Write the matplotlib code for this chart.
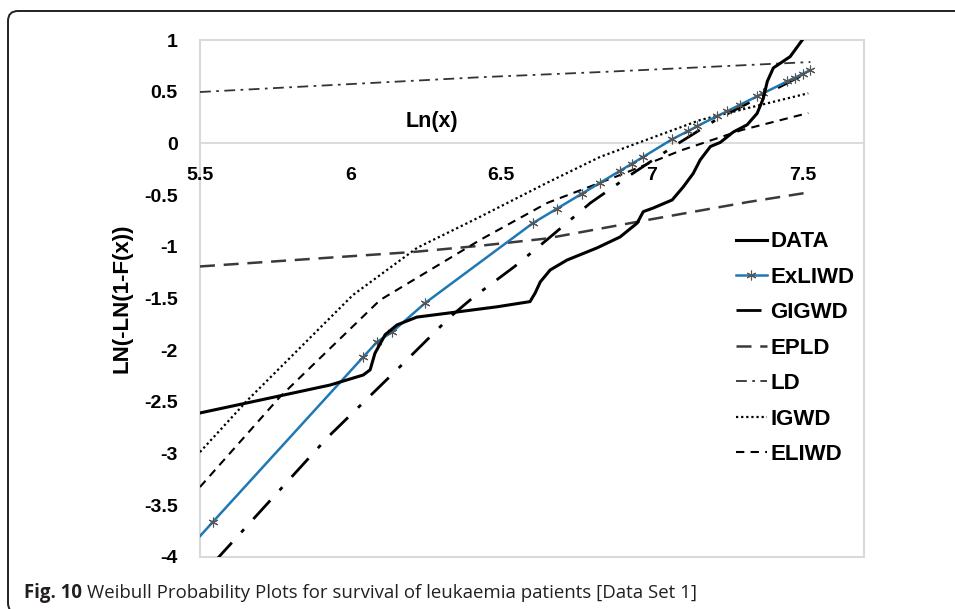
import matplotlib
matplotlib.use('Agg')
import matplotlib.pyplot as plt
from matplotlib.patches import FancyBboxPatch, Rectangle
from matplotlib.transforms import IdentityTransform

plt.rcParams['font.family'] = 'Liberation Sans'
plt.rcParams['axes.unicode_minus'] = False

# empirical curve
data_x = [5.5, 5.72, 5.932, 6.042, 6.065, 6.081, 6.115, 6.154, 6.22, 6.354, 6.487,
          6.596, 6.613, 6.63, 6.663, 6.719, 6.819, 6.895, 6.952, 6.972, 7.005,
          7.068, 7.105, 7.138, 7.161, 7.195, 7.228, 7.271, 7.317, 7.35, 7.37,
          7.384, 7.404, 7.46, 7.50, 7.52]
data_y = [-2.607, -2.47, -2.337, -2.24, -2.19, -2.03, -1.85, -1.756, -1.68, -1.63, -1.58,
          -1.53, -1.447, -1.34, -1.224, -1.128, -1.01, -0.905, -0.77, -0.66, -0.625,
          -0.547, -0.42, -0.29, -0.16, -0.03, 0.01, 0.11, 0.18, 0.29, 0.43,
          0.60, 0.73, 0.84, 1.0, 1.07]

# fitted models
exliwd_x = [5.45, 5.543, 6.042, 6.088, 6.138, 6.248, 6.606, 6.686, 6.769, 6.829, 6.895,
            6.935, 6.972, 7.068, 7.121, 7.15, 7.218, 7.25, 7.294, 7.35, 7.37, 7.45,
            7.475, 7.503, 7.527]
exliwd_y = [-3.96, -3.66, -2.066, -1.92, -1.824, -1.543, -0.77, -0.63, -0.485, -0.38, -0.265,
            -0.195, -0.13, 0.04, 0.12, 0.165, 0.265, 0.31, 0.375, 0.455, 0.485, 0.60,
            0.635, 0.675, 0.71]

gigwd_x = [5.55, 5.925, 6.164, 6.33, 6.407, 6.545, 6.653, 6.796, 6.929, 7.08, 7.218, 7.527]
gigwd_y = [-4.04, -2.84, -2.16, -1.68, -1.49, -1.19, -0.93, -0.577, -0.306, -0.015, 0.236, 0.70]

epld_x = [5.5, 6.208, 6.43, 6.65, 6.985, 7.32, 7.53]
epld_y = [-1.19, -1.05, -0.99, -0.92, -0.741, -0.567, -0.47]

ld_x = [5.5, 6.43, 6.829, 7.527]
ld_y = [0.497, 0.64, 0.69, 0.787]

igwd_x = [5.5, 5.659, 6.008, 6.221, 6.43, 6.653, 6.829, 7.161, 7.317, 7.52]
igwd_y = [-2.985, -2.48, -1.466, -1.01, -0.71, -0.38, -0.13, 0.226, 0.34, 0.485]

eliwd_x = [5.5, 5.766, 6.098, 6.43, 6.653, 6.895, 7.095, 7.3, 7.52]
eliwd_y = [-3.323, -2.45, -1.515, -0.934, -0.576, -0.306, -0.07, 0.13, 0.294]

xticks = [5.5, 6, 6.5, 7, 7.5]
xlabels = ['5.5', '6', '6.5', '7', '7.5']
yticks = [-4, -3.5, -3, -2.5, -2, -1.5, -1, -0.5, 0, 0.5, 1]
ylabels = ['-4', '-3.5', '-3', '-2.5', '-2', '-1.5', '-1', '-0.5', '0', '0.5', '1']

fig = plt.figure(figsize=(9.55, 6.09), dpi=100)
ax = fig.add_axes([0.2094, 0.0854, 0.6953, 0.8489])

ax.plot(data_x, data_y, color='black', lw=2.2, label='DATA', zorder=5)
ax.plot(exliwd_x, exliwd_y, color='#1f78b4', lw=1.8, marker=(6, 2, 0), ms=7,
        mec='#555555', mew=0.8, label='ExLIWD', zorder=4)
ax.plot(gigwd_x, gigwd_y, color='black', lw=2.0, dashes=(9, 5, 1.5, 5), label='GIGWD', zorder=3)
ax.plot(epld_x, epld_y, color='#3a3a3a', lw=1.8, dashes=(6, 3.5), label='EPLD', zorder=3)
ax.plot(ld_x, ld_y, color='#333333', lw=1.3, dashes=(6, 3, 1.5, 3), label='LD', zorder=3)
ax.plot(igwd_x, igwd_y, color='black', lw=1.6, dashes=(1, 1.3), label='IGWD', zorder=3)
ax.plot(eliwd_x, eliwd_y, color='black', lw=1.5, dashes=(4, 3), label='ELIWD', zorder=3)

ax.set_xlim(5.5, 7.705)
ax.set_ylim(-4, 1)

for side in ['top', 'right', 'left']:
    ax.spines[side].set_visible(False)
ax.spines['bottom'].set_position(('data', 0))
ax.spines['bottom'].set_color('#d9d9d9')
ax.spines['bottom'].set_linewidth(1.3)
ax.add_patch(Rectangle((0, 0), 1, 1, transform=ax.transAxes, fill=False,
                       ec='#d9d9d9', lw=1.5, clip_on=False, zorder=0))

ax.set_xticks(xticks, xlabels, fontweight='bold')
ax.set_yticks(yticks, ylabels, fontweight='bold')
ax.tick_params(axis='both', length=0, labelsize=14)
ax.tick_params(axis='x', pad=17)
ax.tick_params(axis='y', pad=16)

ax.set_ylabel('LN(-LN(1-F(x))', fontsize=16, fontweight='bold')
ax.yaxis.set_label_coords(-0.102, 0.5)
ax.set_xlabel('Ln(x)', fontsize=15.5, fontweight='bold', va='center')
ax.xaxis.set_label_coords(0.349, 0.843)

ax.legend(loc='center left', bbox_to_anchor=(0.807, 0.404), frameon=False,
          prop={'weight': 'bold', 'size': 16}, handlelength=1.4,
          handletextpad=0.15, labelspacing=0.65, borderpad=0, borderaxespad=0)

# rounded frame around figure and caption
fig.patches.append(FancyBboxPatch((8, -4), 1000, 602, transform=IdentityTransform(),
                                  boxstyle='round,pad=0,rounding_size=10',
                                  fill=False, ec='#222222', lw=1.4))

t1 = fig.text(24 / 955, 0.018, 'Fig. 10', fontfamily='Open Sans', fontweight='bold',
              fontsize=13.4, color='#231f20')
renderer = fig.canvas.get_renderer()
bb = t1.get_window_extent(renderer)
fig.text((bb.x1 + 5) / 955, 0.018,
         'Weibull Probability Plots for survival of leukaemia patients [Data Set 1]',
         fontfamily='Open Sans', fontsize=13.4, color='#231f20')

fig.savefig('out.png', dpi=100)
